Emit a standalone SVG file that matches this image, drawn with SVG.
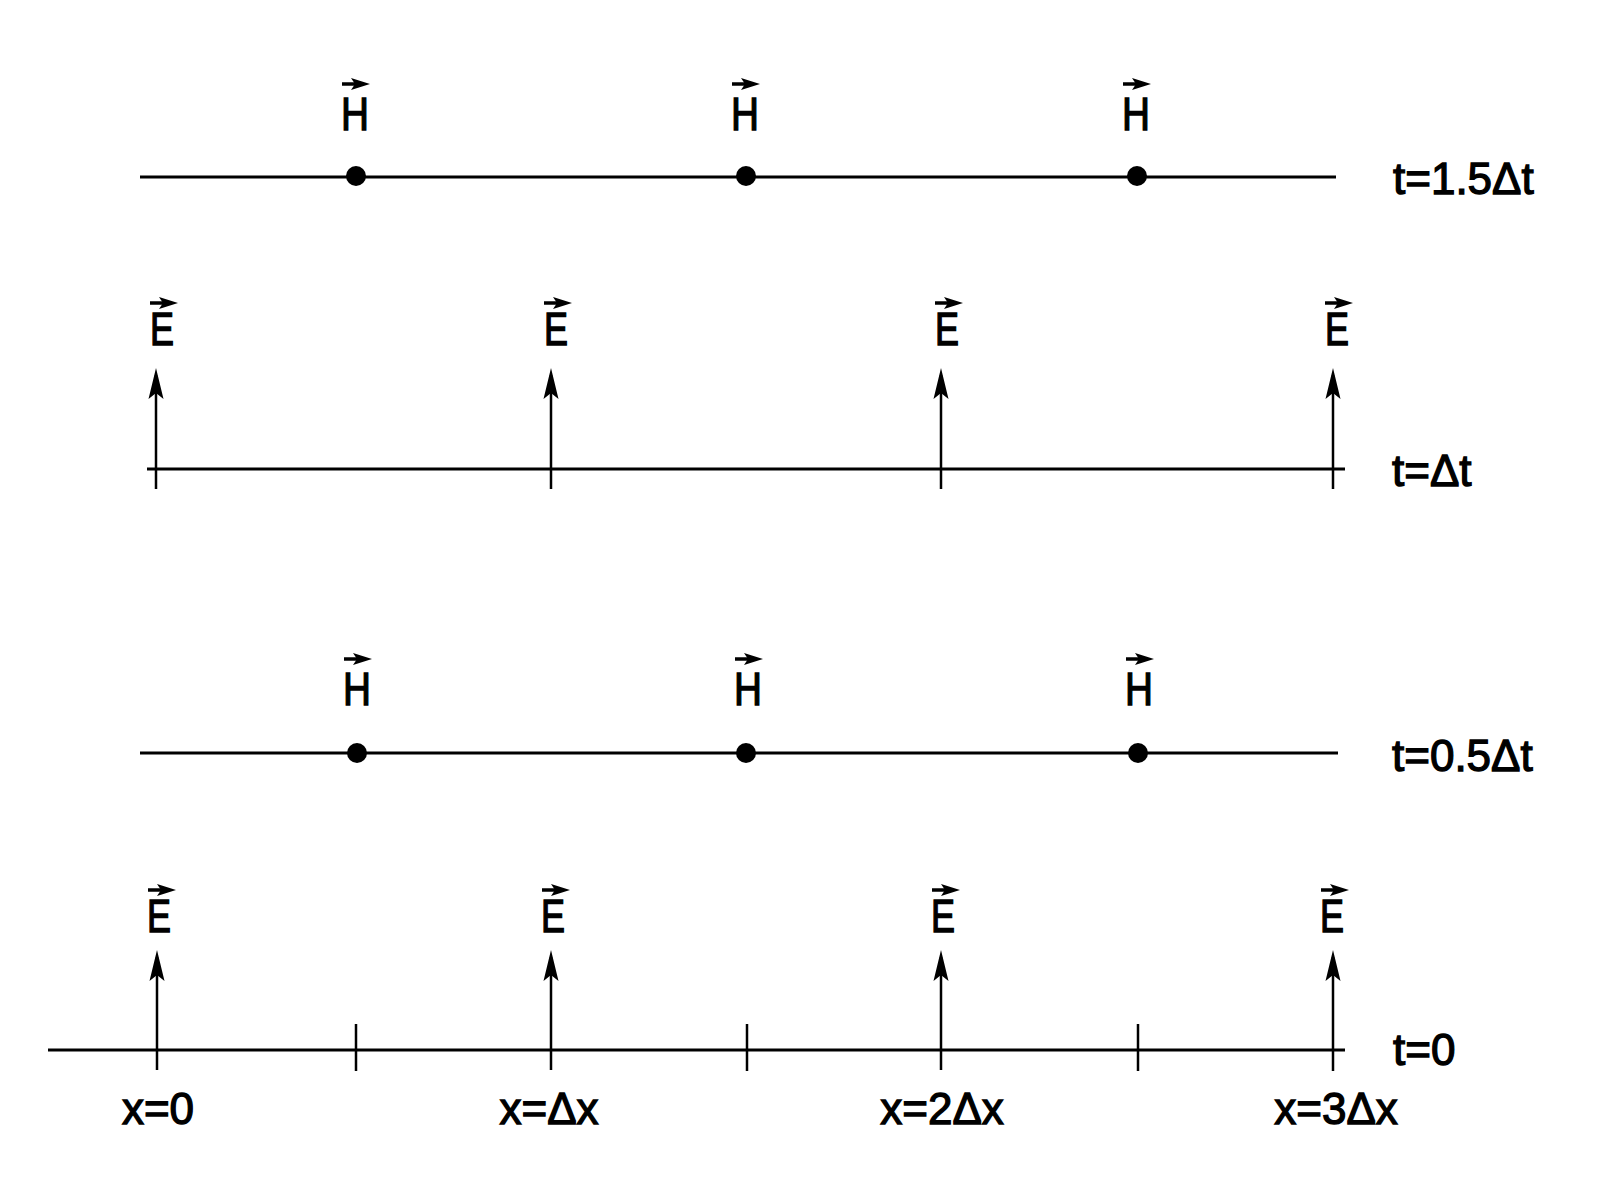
<svg xmlns="http://www.w3.org/2000/svg" width="1607" height="1189" viewBox="0 0 1607 1189">
<style>
.ax{stroke:#000;stroke-width:3;fill:none}
.tk{stroke:#000;stroke-width:2.5;fill:none}
.lbl{font-family:"Liberation Sans",Arial,sans-serif;font-size:44px;fill:#000;stroke:#000;stroke-width:1.3}
.sym{font-family:"Liberation Sans",Arial,sans-serif;font-size:47px;fill:#000;stroke:#000;stroke-width:1.4}
.dot{fill:#000}
</style>
<defs>
<g id="vec"><line x1="0" y1="0" x2="15" y2="0" stroke="#000" stroke-width="3.5"/><polygon points="9,-6 28,0 9,6 13,0" fill="#000"/></g>
<g id="ahead"><polygon points="0,0 -7.5,31 0,25 7.5,31" fill="#000"/></g>
</defs>
<g id="connectors">
<line class="ax" x1="140" y1="177" x2="1336" y2="177"/>
<line class="ax" x1="147" y1="469" x2="1345" y2="469"/>
<line class="ax" x1="140" y1="753" x2="1338" y2="753"/>
<line class="ax" x1="48" y1="1050" x2="1345" y2="1050"/>
<line class="tk" x1="356" y1="1024" x2="356" y2="1071"/>
<line class="tk" x1="747" y1="1024" x2="747" y2="1071"/>
<line class="tk" x1="1138" y1="1024" x2="1138" y2="1071"/>
</g>
<g id="row-t15">
<g id="h1a"><circle class="dot" cx="356" cy="176" r="10"/><text class="sym" x="341" y="130" textLength="28" lengthAdjust="spacingAndGlyphs">H</text><use href="#vec" x="342" y="84"/></g>
<g id="h1b"><circle class="dot" cx="746" cy="176" r="10"/><text class="sym" x="731" y="130" textLength="28" lengthAdjust="spacingAndGlyphs">H</text><use href="#vec" x="732" y="84"/></g>
<g id="h1c"><circle class="dot" cx="1137" cy="176" r="10"/><text class="sym" x="1122" y="130" textLength="28" lengthAdjust="spacingAndGlyphs">H</text><use href="#vec" x="1123" y="84"/></g>
<text id="t15" class="lbl" x="1393" y="194">t=1.5Δt</text>
</g>
<g id="row-t1">
<g id="e2a"><line class="tk" x1="156" y1="489" x2="156" y2="375"/><use href="#ahead" x="156" y="368"/><text class="sym" x="150" y="345" textLength="24" lengthAdjust="spacingAndGlyphs">E</text><use href="#vec" x="150" y="303"/></g>
<g id="e2b"><line class="tk" x1="551" y1="489" x2="551" y2="375"/><use href="#ahead" x="551" y="368"/><text class="sym" x="544" y="345" textLength="24" lengthAdjust="spacingAndGlyphs">E</text><use href="#vec" x="544" y="303"/></g>
<g id="e2c"><line class="tk" x1="941" y1="489" x2="941" y2="375"/><use href="#ahead" x="941" y="368"/><text class="sym" x="935" y="345" textLength="24" lengthAdjust="spacingAndGlyphs">E</text><use href="#vec" x="935" y="303"/></g>
<g id="e2d"><line class="tk" x1="1333" y1="489" x2="1333" y2="375"/><use href="#ahead" x="1333" y="368"/><text class="sym" x="1325" y="345" textLength="24" lengthAdjust="spacingAndGlyphs">E</text><use href="#vec" x="1325" y="303"/></g>
<text id="t1" class="lbl" x="1392" y="486">t=Δt</text>
</g>
<g id="row-t05">
<g id="h3a"><circle class="dot" cx="357" cy="753" r="10"/><text class="sym" x="343" y="705" textLength="28" lengthAdjust="spacingAndGlyphs">H</text><use href="#vec" x="344" y="659"/></g>
<g id="h3b"><circle class="dot" cx="746" cy="753" r="10"/><text class="sym" x="734" y="705" textLength="28" lengthAdjust="spacingAndGlyphs">H</text><use href="#vec" x="735" y="659"/></g>
<g id="h3c"><circle class="dot" cx="1138" cy="753" r="10"/><text class="sym" x="1125" y="705" textLength="28" lengthAdjust="spacingAndGlyphs">H</text><use href="#vec" x="1126" y="659"/></g>
<text id="t05" class="lbl" x="1392" y="771">t=0.5Δt</text>
</g>
<g id="row-t0">
<g id="e4a"><line class="tk" x1="157" y1="1070" x2="157" y2="957"/><use href="#ahead" x="157" y="950"/><text class="sym" x="147" y="932" textLength="24" lengthAdjust="spacingAndGlyphs">E</text><use href="#vec" x="148" y="890"/></g>
<g id="e4b"><line class="tk" x1="551" y1="1070" x2="551" y2="957"/><use href="#ahead" x="551" y="950"/><text class="sym" x="541" y="932" textLength="24" lengthAdjust="spacingAndGlyphs">E</text><use href="#vec" x="542" y="890"/></g>
<g id="e4c"><line class="tk" x1="941" y1="1070" x2="941" y2="957"/><use href="#ahead" x="941" y="950"/><text class="sym" x="931" y="932" textLength="24" lengthAdjust="spacingAndGlyphs">E</text><use href="#vec" x="932" y="890"/></g>
<g id="e4d"><line class="tk" x1="1333" y1="1071" x2="1333" y2="957"/><use href="#ahead" x="1333" y="950"/><text class="sym" x="1320" y="932" textLength="24" lengthAdjust="spacingAndGlyphs">E</text><use href="#vec" x="1321" y="890"/></g>
<text id="t0" class="lbl" x="1393" y="1065">t=0</text>
</g>
<g id="xlabels">
<text class="lbl" x="158" y="1124" text-anchor="middle">x=0</text>
<text class="lbl" x="549" y="1124" text-anchor="middle">x=Δx</text>
<text class="lbl" x="942" y="1124" text-anchor="middle">x=2Δx</text>
<text class="lbl" x="1336" y="1124" text-anchor="middle">x=3Δx</text>
</g>
</svg>
